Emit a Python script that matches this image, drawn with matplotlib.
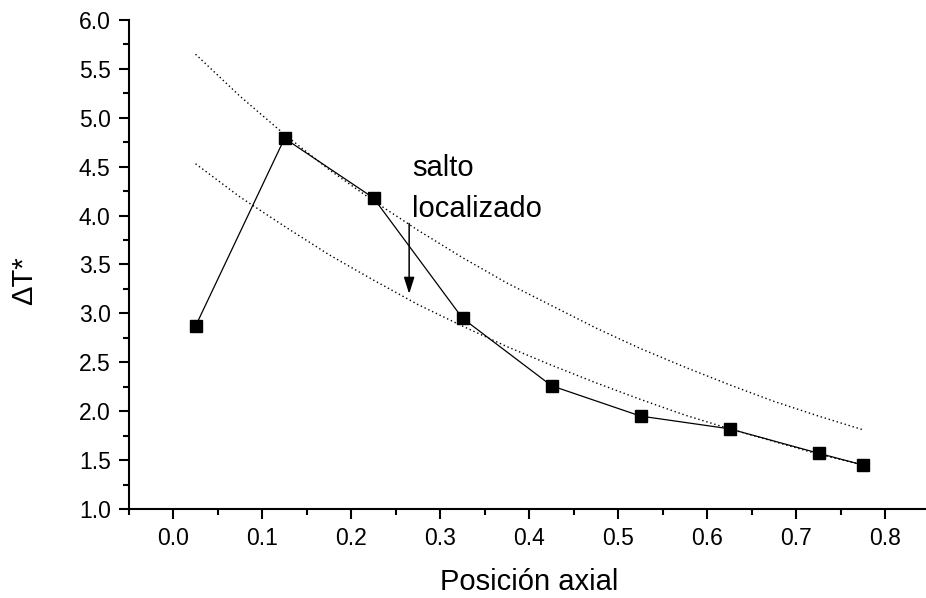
import matplotlib
matplotlib.use('Agg')
import matplotlib.pyplot as plt
from matplotlib.ticker import MultipleLocator

plt.rcParams['font.family'] = ['Liberation Sans', 'DejaVu Sans']

# datos medidos
posicion = [0.025, 0.125, 0.225, 0.325, 0.425, 0.525, 0.625, 0.725, 0.775]
delta_t = [2.87, 4.79, 4.18, 2.95, 2.26, 1.95, 1.82, 1.57, 1.45]

# curvas de referencia (punteadas)
pos_curva = [0.025, 0.075, 0.125, 0.175, 0.225, 0.275, 0.325, 0.375,
             0.425, 0.475, 0.525, 0.575, 0.625, 0.675, 0.725, 0.775]
curva_sup = [5.65, 5.22, 4.83, 4.47, 4.15, 3.85, 3.57, 3.31,
             3.08, 2.85, 2.64, 2.45, 2.27, 2.10, 1.95, 1.81]
curva_inf = [4.53, 4.19, 3.89, 3.60, 3.34, 3.09, 2.87, 2.66,
             2.47, 2.29, 2.12, 1.96, 1.82, 1.69, 1.56, 1.45]

fig = plt.figure(figsize=(9.26, 5.98), dpi=100)
ax = fig.add_axes([128.8 / 926, 89 / 598, 801 / 926, 489 / 598])

ax.plot(pos_curva, curva_sup, color='black', lw=1.0, linestyle=(0, (1, 2)))
ax.plot(pos_curva, curva_inf, color='black', lw=1.0, linestyle=(0, (1, 2)))
ax.plot(posicion, delta_t, color='black', lw=0.9, marker='s', markersize=8.5,
        markerfacecolor='black', markeredgecolor='black')

# flecha y texto
ax.annotate('', xy=(0.265, 3.20), xytext=(0.265, 3.92),
            arrowprops=dict(arrowstyle='-|>,head_length=1.0,head_width=0.32',
                            color='black', lw=1.1, mutation_scale=10,
                            shrinkA=0, shrinkB=0))
ax.text(0.268, 4.40, 'salto', fontsize=21, va='baseline', ha='left')
ax.text(0.268, 3.99, 'localizado', fontsize=21, va='baseline', ha='left')

ax.set_xlim(-0.05, 0.85)
ax.set_ylim(1.0, 6.0)
ax.xaxis.set_minor_locator(MultipleLocator(0.05))
ax.yaxis.set_major_locator(MultipleLocator(0.5))
ax.yaxis.set_minor_locator(MultipleLocator(0.25))
ax.set_xticks([0.0, 0.1, 0.2, 0.3, 0.4, 0.5, 0.6, 0.7, 0.8])
ax.set_xticklabels(['0.0', '0.1', '0.2', '0.3', '0.4', '0.5', '0.6', '0.7', '0.8'])

ax.spines['top'].set_visible(False)
ax.spines['right'].set_visible(False)
ax.spines['left'].set_linewidth(1.5)
ax.spines['bottom'].set_linewidth(1.5)
ax.tick_params(which='major', direction='out', length=7, width=1.5, labelsize=16.5, pad=6)
ax.tick_params(which='minor', direction='out', length=4, width=1.5)

ax.set_xlabel('Posición axial', fontsize=21, va='baseline')
ax.xaxis.set_label_coords(0.5, -0.1656)
ax.set_ylabel('ΔT*', fontsize=21, va='center')
ax.yaxis.set_label_coords(-0.131, 0.466)

fig.savefig('out.png', dpi=100)
